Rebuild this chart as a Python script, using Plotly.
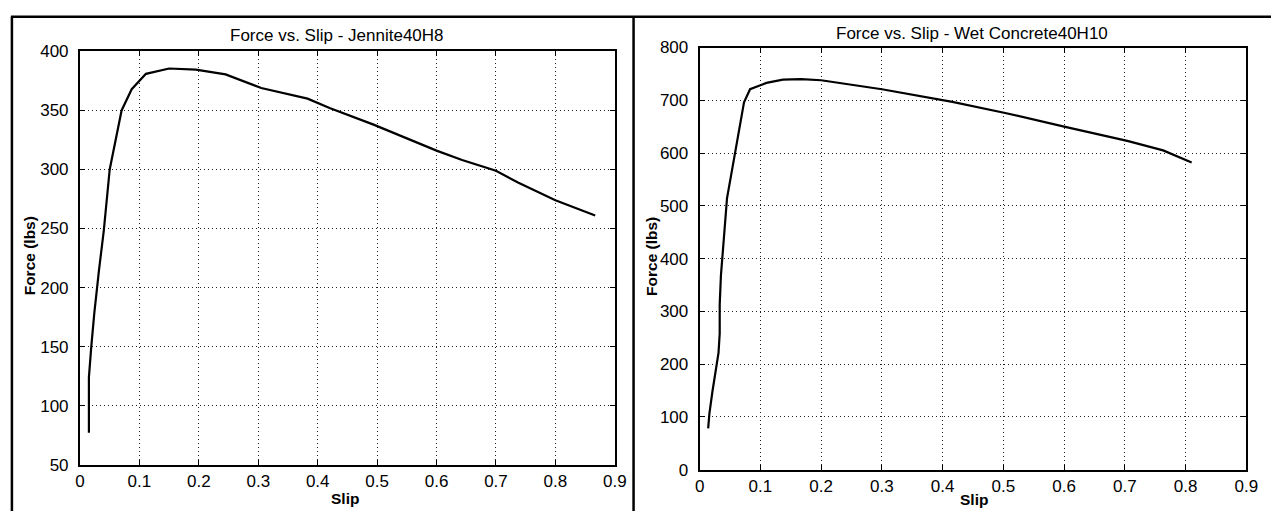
import plotly.graph_objects as go

W, H = 1283, 521

# Left panel: Jennite40H8
slip_j = [0.015, 0.015, 0.019, 0.024, 0.032, 0.040, 0.050, 0.059, 0.070, 0.087, 0.111, 0.150,
          0.195, 0.245, 0.305, 0.383, 0.420, 0.494, 0.600, 0.643, 0.700, 0.737, 0.800, 0.867]
force_j = [77, 124, 150, 178, 215, 248, 300, 324, 350, 368, 381, 385.5,
           384.5, 380.5, 369, 360, 352, 338, 316, 308, 299, 289, 274, 261]

# Right panel: Wet Concrete40H10
slip_w = [0.014, 0.016, 0.021, 0.031, 0.033, 0.033, 0.035, 0.040, 0.045, 0.059, 0.073, 0.083,
          0.110, 0.137, 0.167, 0.200, 0.300, 0.416, 0.503, 0.600, 0.704, 0.763, 0.810]
force_w = [78, 106, 148, 221, 258, 313, 368, 435, 514, 605, 696, 721,
           733, 739, 740, 738, 721, 697, 676, 650, 623, 605, 582]

x_ticks = [0, 0.1, 0.2, 0.3, 0.4, 0.5, 0.6, 0.7, 0.8, 0.9]
x_tick_labels = ["0", "0.1", "0.2", "0.3", "0.4", "0.5", "0.6", "0.7", "0.8", "0.9"]
y_ticks_j = [50, 100, 150, 200, 250, 300, 350, 400]
y_ticks_w = [0, 100, 200, 300, 400, 500, 600, 700, 800]

title_j = "Force vs. Slip - Jennite40H8"
title_w = "Force vs. Slip - Wet Concrete40H10"
x_label = "Slip"
y_label = "Force (lbs)"

FONT = "Arial, Liberation Sans, sans-serif"


def px(x):
    return x / W


def py(y):
    return 1 - y / H


fig = go.Figure()
fig.add_trace(go.Scatter(x=slip_j, y=force_j, mode="lines", line=dict(color="black", width=2.2),
                         xaxis="x", yaxis="y", showlegend=False))
fig.add_trace(go.Scatter(x=slip_w, y=force_w, mode="lines", line=dict(color="black", width=2.2),
                         xaxis="x2", yaxis="y2", showlegend=False))

axis_common = dict(
    showline=True, linecolor="black", linewidth=2, mirror="ticks",
    ticks="inside", ticklen=5, tickwidth=1, tickcolor="black",
    showgrid=True, gridcolor="#222222", gridwidth=1, griddash="1px,3px",
    zeroline=False, tickfont=dict(family=FONT, size=17, color="black"),
    fixedrange=True,
)

fig.update_layout(
    width=W, height=H,
    margin=dict(l=0, r=0, t=0, b=0),
    paper_bgcolor="white", plot_bgcolor="white",
    font=dict(family=FONT, color="black"),
    xaxis=dict(axis_common, domain=[px(76), px(618)], range=[0, 0.9],
               tickvals=x_ticks, ticktext=x_tick_labels, anchor="y"),
    yaxis=dict(axis_common, domain=[py(473), py(44)], range=[50, 400],
               tickvals=y_ticks_j, anchor="x", ticklabelstandoff=6),
    xaxis2=dict(axis_common, domain=[px(704), px(1258)], range=[0, 0.9],
                tickvals=x_ticks, ticktext=x_tick_labels, anchor="y2"),
    yaxis2=dict(axis_common, domain=[py(478), py(40)], range=[0, 800],
                tickvals=y_ticks_w, anchor="x2", ticklabelstandoff=6),
)

annotations = [
    dict(text=title_j, x=px(336), y=py(28), font=dict(size=17)),
    dict(text=title_w, x=px(980), y=py(25), font=dict(size=17)),
    dict(text="<b>" + x_label + "</b>", x=px(345), y=py(508), font=dict(size=15.5)),
    dict(text="<b>" + x_label + "</b>", x=px(982), y=py(509), font=dict(size=15.5)),
    dict(text="<b>" + y_label + "</b>", x=px(25), y=py(256), textangle=-90, font=dict(size=15.5)),
    dict(text="<b>" + y_label + "</b>", x=px(655), y=py(257), textangle=-90, font=dict(size=15.5)),
]
for a in annotations:
    a.update(xref="paper", yref="paper", showarrow=False, xanchor="center", yanchor="middle")
    a["font"].update(family=FONT, color="black")
fig.update_layout(annotations=annotations)

frame = dict(color="black", width=2.5)
fig.update_layout(shapes=[
    dict(type="line", xref="paper", yref="paper", x0=px(6), x1=1.0, y0=py(8), y1=py(8), line=frame),
    dict(type="line", xref="paper", yref="paper", x0=px(7), x1=px(7), y0=0.0, y1=py(8), line=frame),
    dict(type="line", xref="paper", yref="paper", x0=px(637), x1=px(637), y0=0.0, y1=py(8), line=frame),
])

fig.write_html("out.html")
